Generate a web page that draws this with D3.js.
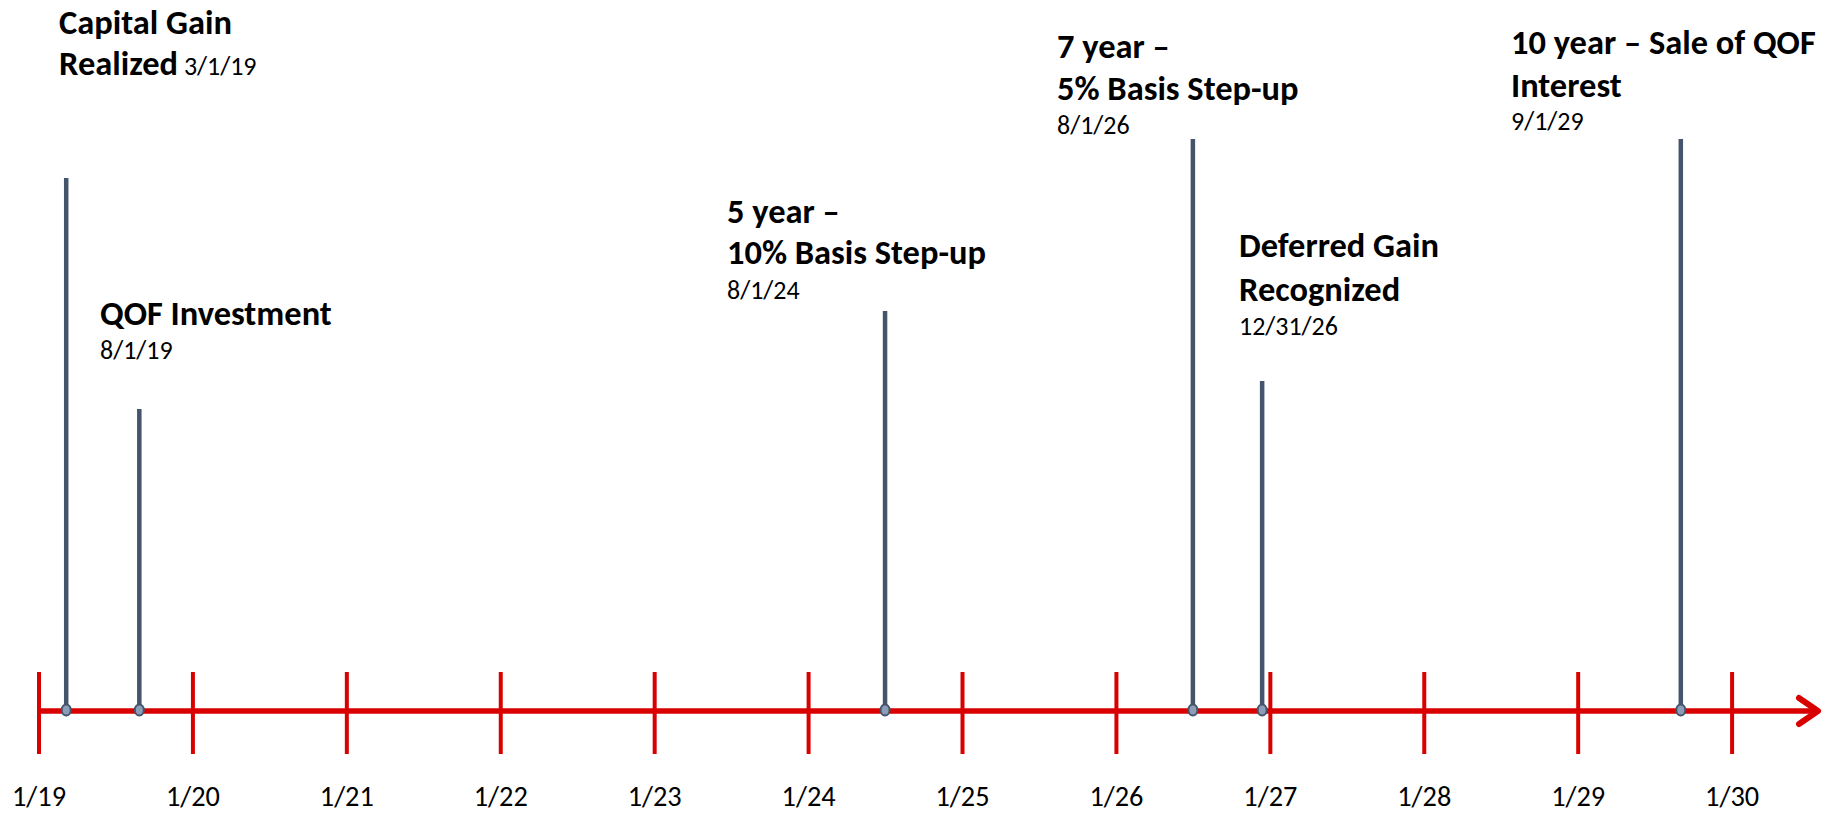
<!DOCTYPE html>
<html>
<head>
<meta charset="utf-8">
<script src="https://cdn.jsdelivr.net/npm/d3@7"></script>
<style>
  html, body { margin: 0; padding: 0; background: #fff; }
  svg { display: block; }
  .lbl { font-family: Carlito, Lato, "Open Sans", sans-serif; fill: #000; }
</style>
</head>
<body>
<svg id="chart" width="1832" height="815"></svg>
<script>
// timeline data
const tickYears = [2019, 2020, 2021, 2022, 2023, 2024, 2025, 2026, 2027, 2028, 2029, 2030];
const tickLabels = ["1/19", "1/20", "1/21", "1/22", "1/23", "1/24", "1/25", "1/26", "1/27", "1/28", "1/29", "1/30"];

const eventTitles = [
  ["Capital Gain", "Realized"],
  ["QOF Investment"],
  ["5 year \u2013", "10% Basis Step-up"],
  ["7 year \u2013", "5% Basis Step-up"],
  ["Deferred Gain", "Recognized"],
  ["10 year \u2013 Sale of QOF", "Interest"]
];
const eventDates = ["3/1/19", "8/1/19", "8/1/24", "8/1/26", "12/31/26", "9/1/29"];
// where each marker sits on the line (decimal year, as drawn)
const eventPos = [2019.18, 2019.655, 2024.50, 2026.50, 2026.95, 2029.67];
// stem heights (arbitrary units above the line)
const stemHeights = [533, 302, 400, 572, 330, 572];

// label layout (pixels) - kept apart from data
const labelLayout = [
  { x: 59,   y: 34,  lh: 41, dateGap: 0,  inline: true },
  { x: 100,  y: 325, lh: 41, dateGap: 34 },
  { x: 727,  y: 223, lh: 41, dateGap: 35 },
  { x: 1057, y: 58,  lh: 42, dateGap: 34 },
  { x: 1239, y: 257, lh: 44, dateGap: 34 },
  { x: 1511, y: 54,  lh: 43, dateGap: 33 }
];

const svg = d3.select("#chart");
const red = "#d90000";
const slate = "#44546a";
const axisY = 711;

const x = d3.scaleLinear().domain([2019, 2030]).range([38.5, 1731.6]);
const y = d3.scaleLinear().domain([0, 600]).range([axisY, axisY - 600]);

// calibrate font sizes against widths measured in the picture
function fitSize(str, weight, target) {
  const t = svg.append("text").attr("class", "lbl")
    .style("font-weight", weight).style("font-size", "100px").text(str);
  const w = t.node().getComputedTextLength();
  t.remove();
  return 100 * target / w;
}
const boldSize = fitSize("10% Basis Step-up", 700, 259);
const regSize = fitSize("12/31/26", 400, 99);
const tickSize = fitSize("1/19", 400, 54);

// main line + arrow
svg.append("line")
  .attr("x1", x(2019)).attr("x2", 1816)
  .attr("y1", axisY).attr("y2", axisY)
  .attr("stroke", red).attr("stroke-width", 5.5);
svg.append("path")
  .attr("d", `M1799,${axisY - 13} L1818,${axisY} L1799,${axisY + 13}`)
  .attr("fill", "none").attr("stroke", red).attr("stroke-width", 6)
  .attr("stroke-linecap", "round").attr("stroke-linejoin", "round");

// ticks via d3 axis
const axis = d3.axisBottom(x)
  .tickValues(tickYears)
  .tickSize(82)
  .tickPadding(0)
  .tickFormat((d, i) => tickLabels[i]);

const gAxis = svg.append("g")
  .attr("transform", `translate(0,${axisY - 39})`)
  .call(axis);
gAxis.select(".domain").remove();
gAxis.selectAll(".tick line").attr("stroke", red).attr("stroke-width", 4);
gAxis.selectAll(".tick text")
  .attr("class", "lbl")
  .attr("y", 806 - (axisY - 39)).attr("dy", null)
  .style("font-size", tickSize + "px")
  .attr("fill", "#000");

// stems
const events = eventPos.map((p, i) => ({ p, h: stemHeights[i], i }));

svg.append("g").selectAll("line")
  .data(events)
  .join("line")
  .attr("x1", d => x(d.p)).attr("x2", d => x(d.p))
  .attr("y1", y(0)).attr("y2", d => y(d.h))
  .attr("stroke", slate).attr("stroke-width", 4.5);

svg.append("g").selectAll("ellipse")
  .data(events)
  .join("ellipse")
  .attr("cx", d => x(d.p)).attr("cy", y(0) - 1)
  .attr("rx", 4.5).attr("ry", 5.5)
  .attr("fill", "#8c9db8").attr("stroke", slate).attr("stroke-width", 2);

// labels
const gLab = svg.append("g");
eventTitles.forEach((lines, i) => {
  const L = labelLayout[i];
  const t = gLab.append("text").attr("class", "lbl").attr("x", L.x).attr("y", L.y);
  lines.forEach((ln, j) => {
    t.append("tspan")
      .attr("x", L.x)
      .attr("y", L.y + j * L.lh)
      .style("font-weight", 700)
      .style("font-size", boldSize + "px")
      .text(ln);
  });
  if (L.inline) {
    t.append("tspan")
      .style("font-weight", 400)
      .style("font-size", regSize + "px")
      .text("\u00a0" + eventDates[i]);
  } else {
    t.append("tspan")
      .attr("x", L.x)
      .attr("y", L.y + (lines.length - 1) * L.lh + L.dateGap)
      .style("font-weight", 400)
      .style("font-size", regSize + "px")
      .text(eventDates[i]);
  }
});
</script>
</body>
</html>
